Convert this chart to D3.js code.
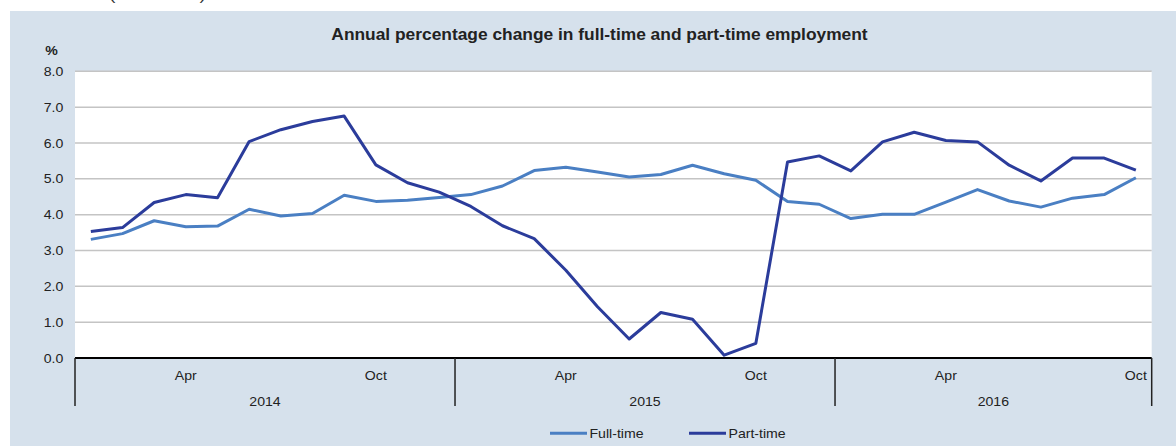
<!DOCTYPE html>
<html><head><meta charset="utf-8">
<script src="https://cdn.jsdelivr.net/npm/d3@7"></script>
<style>body{margin:0;background:#fff;}svg{display:block;font-family:"Liberation Sans",Arial,sans-serif;}</style>
</head><body>
<svg id="c" width="1176" height="446"></svg>
<script>
const years = ["2014","2015","2016"];
const monthNames = ["Jan","Feb","Mar","Apr","May","Jun","Jul","Aug","Sep","Oct","Nov","Dec"];
const monthLabels = ["Apr","Oct"];
const months = [];
years.forEach(y => monthNames.forEach(m => months.push(m + " " + y)));
const categories = months.slice(0, 34); // Jan 2014 - Oct 2016
const fullTime = [3.31,3.47,3.83,3.66,3.68,4.15,3.96,4.03,4.54,4.37,4.40,4.48,
                  4.56,4.80,5.23,5.32,5.19,5.05,5.12,5.38,5.14,4.96,4.37,4.29,
                  3.89,4.01,4.01,4.35,4.70,4.38,4.21,4.46,4.56,5.03];
const partTime = [3.53,3.64,4.34,4.56,4.47,6.04,6.37,6.60,6.75,5.39,4.89,4.63,
                  4.23,3.69,3.33,2.45,1.43,0.53,1.27,1.08,0.08,0.41,5.47,5.64,
                  5.22,6.03,6.30,6.07,6.03,5.38,4.94,5.58,5.58,5.24];
const yTicks = [0,1,2,3,4,5,6,7,8];
const seriesNames = ["Full-time","Part-time"];
const colors = ["#4a7fc3","#2b3c9b"];

const K = 1.085; // horizontal text stretch seen in the reference
function stretch(sel){
  sel.each(function(){
    const w = this.getComputedTextLength();
    d3.select(this).attr("textLength", w*K).attr("lengthAdjust","spacingAndGlyphs");
  });
  return sel;
}

const svg = d3.select("#c");
// panel background
svg.append("rect").attr("x",10).attr("y",11).attr("width",1166).attr("height",435).attr("fill","#d6e1ec");
// cut-off text at top (only its lowest part shows in the reference)
svg.append("text").attr("x",109).attr("y",-0.5).attr("font-size",16).attr("fill","#333")
  .attr("textLength",97).attr("lengthAdjust","spacingAndGlyphs").text("(continued)");

const L = 75, R = 1151.7, T = 71.3, B = 358;
const x = d3.scaleBand().domain(categories).range([L, R]).padding(0);
const y = d3.scaleLinear().domain([0,8]).range([B, T]);
const bw = x.bandwidth();
const cx = d => x(d) + bw/2;

svg.append("rect").attr("x",L).attr("y",T).attr("width",R-L).attr("height",B-T).attr("fill","#fff");

// gridlines
svg.append("g").selectAll("line").data(yTicks.filter(d=>d>0)).join("line")
  .attr("x1",L).attr("x2",R).attr("y1",d=>y(d)).attr("y2",d=>y(d))
  .attr("stroke","#c4c4c4").attr("stroke-width",1.5);

// y labels
stretch(svg.append("g").selectAll("text").data(yTicks).join("text")
  .attr("x",63.3).attr("y",d=>y(d)).attr("dy","0.35em").attr("text-anchor","end")
  .attr("font-size",13).attr("fill","#222").text(d=>d.toFixed(1)));
stretch(svg.append("text").attr("x",51.5).attr("y",55).attr("text-anchor","middle")
  .attr("font-size",13).attr("font-weight","bold").attr("fill","#222").text("%"));

// title
stretch(svg.append("text").attr("x",599.5).attr("y",40).attr("text-anchor","middle")
  .attr("font-size",16).attr("font-weight","bold").attr("fill","#222")
  .text("Annual percentage change in full-time and part-time employment"));

// x axis
svg.append("line").attr("x1",L).attr("x2",R).attr("y1",B).attr("y2",B).attr("stroke","#000").attr("stroke-width",2);
const yearStarts = years.map(yy => x("Jan " + yy));
const seps = yearStarts.concat([R]);
svg.append("g").selectAll("line").data(seps).join("line")
  .attr("x1",d=>d).attr("x2",d=>d).attr("y1",B).attr("y2",406)
  .attr("stroke","#222").attr("stroke-width",1.5);
const mLab = categories.filter(c => monthLabels.includes(c.split(" ")[0]));
stretch(svg.append("g").selectAll("text").data(mLab).join("text")
  .attr("x",d=>cx(d)).attr("y",380).attr("text-anchor","middle")
  .attr("font-size",13).attr("fill","#222").text(d=>d.split(" ")[0]));
stretch(svg.append("g").selectAll("text").data(years).join("text")
  .attr("x",(d,i)=>(seps[i]+seps[i+1])/2).attr("y",405.5).attr("text-anchor","middle")
  .attr("font-size",13).attr("fill","#222").text(d=>d));

// lines
const line = d3.line().x((d,i)=>cx(categories[i])).y(d=>y(d));
[fullTime, partTime].forEach((s,i)=>{
  svg.append("path").datum(s).attr("d",line).attr("fill","none")
    .attr("stroke",colors[i]).attr("stroke-width",3).attr("stroke-linejoin","round");
});

// legend
const leg = [{x:550,name:seriesNames[0],c:colors[0]},{x:689,name:seriesNames[1],c:colors[1]}];
leg.forEach(l=>{
  svg.append("line").attr("x1",l.x).attr("x2",l.x+37).attr("y1",433.3).attr("y2",433.3)
    .attr("stroke",l.c).attr("stroke-width",3);
  stretch(svg.append("text").attr("x",l.x+39.5).attr("y",438)
    .attr("font-size",13).attr("fill","#222").text(l.name));
});
</script>
</body></html>
